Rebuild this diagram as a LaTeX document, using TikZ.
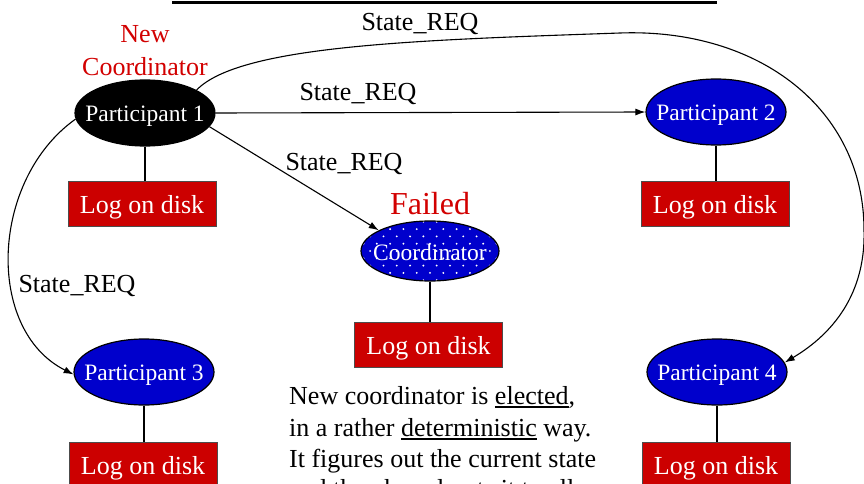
\documentclass[tikz,border=0pt]{standalone}
\usepackage{fontspec}
\setmainfont{Liberation Serif}
\usetikzlibrary{shapes.geometric,arrows.meta}
\definecolor{nodeblue}{RGB}{0,0,204}
\definecolor{diskred}{RGB}{204,0,0}
\definecolor{notered}{RGB}{210,0,0}
% text of zero size, lowered so its baseline sits #1 below the node centre
\newcommand\centredtext[2]{\raisebox{-#1}[0pt][0pt]{\makebox[0pt]{#2}}}
% word with a firm underline
\newsavebox\ulbox
\newcommand\ulword[1]{\sbox\ulbox{#1}\rlap{\rule[-3.5pt]{\wd\ulbox}{1.8pt}}\usebox\ulbox}

\begin{document}
\begin{tikzpicture}[x=1pt,y=-1pt,
  part/.style={ellipse, draw=black, line width=1.2pt, fill=nodeblue, text=white,
    minimum width=140pt, minimum height=66pt, inner sep=0pt,
    font=\fontsize{23.5}{28}\selectfont},
  disk/.style={rectangle, draw=black!70, line width=0.9pt, fill=diskred, text=white,
    minimum width=148pt, minimum height=45pt, inner sep=0pt,
    font=\fontsize{26}{31}\selectfont},
  dotfill/.style={path picture={
    \foreach \r in {0,...,10}{\foreach \c in {0,...,12}{
      \pgfmathsetmacro\dx{(\c-6)*13.3+mod(\r,2)*6.65}
      \pgfmathsetmacro\dy{(\r-5)*7.3}
      \fill[white] ([shift={(\dx,\dy)}]path picture bounding box.center) circle (1.05);
    }}}},
  msg/.style={-{Latex[length=10pt,width=7pt]}, line width=1.1pt},
  link/.style={line width=2.6pt},
  lbl/.style={font=\fontsize{26}{31}\selectfont, inner sep=0pt, anchor=base},
  note/.style={font=\fontsize{26}{31}\selectfont, inner sep=0pt, anchor=base west},
]
\useasboundingbox (0,0) rectangle (864,484);
\clip (0,0) rectangle (864,484);

% rule along the top
\draw[line width=3pt] (172,2.5) -- (717,2.5);

% participants and the failed coordinator
\node[part, fill=black] (p1) at (145,113) {\centredtext{8.5pt}{Participant 1}};
\node[part] (p2) at (716,112) {\centredtext{8.5pt}{Participant 2}};
\node[part] (p3) at (144,372) {\centredtext{8.5pt}{Participant 3}};
\node[part] (p4) at (717,372) {\centredtext{8.5pt}{Participant 4}};
\node[part, dotfill, minimum width=138pt, minimum height=60pt] (coord) at (430,251)
  {\centredtext{9pt}{Coordinator}};

% logs
\node[disk] (d1) at (142,203.5) {\centredtext{9.5pt}{Log on disk}};
\node[disk] (d2) at (715,203.5) {\centredtext{9.5pt}{Log on disk}};
\node[disk] (dc) at (428.5,344.5) {\centredtext{9.5pt}{Log on disk}};
\node[disk] (d3) at (143,464.5) {\centredtext{9.5pt}{Log on disk}};
\node[disk] (d4) at (716,464.5) {\centredtext{9.5pt}{Log on disk}};

\draw[link] (p1.south) -- (p1.south |- d1.north);
\draw[link] (p2.south) -- (p2.south |- d2.north);
\draw[link] (coord.south) -- (coord.south |- dc.north);
\draw[link] (p3.south) -- (p3.south |- d3.north);
\draw[link] (p4.south) -- (p4.south |- d4.north);

% state requests sent by the new coordinator
\draw[msg] (p1.0) -- (p2.180);
\draw[msg] (p1.-12) -- (coord.158);
\draw[msg] (p1.185) .. controls (-10,180) and (-15,330) .. (p3.182);
\draw[msg] (p1.24) .. controls (240,45) and (420,40) .. (620,33)
  .. controls (760,28) and (864,110) .. (864,230)
  .. controls (866,300) and (826,338) .. (p4.8);

% labels
\node[lbl] (l1) at (420,31) {State\_REQ};
\node[lbl] (l2) at (358,101) {State\_REQ};
\node[lbl] (l3) at (344,170) {State\_REQ};
\node[lbl] (l4) at (77,292) {State\_REQ};

\node[lbl, text=notered] (n1) at (145,43) {New};
\node[lbl, text=notered] (n2) at (145,76) {Coordinator};
\node[lbl, text=notered, font=\fontsize{32}{38}\selectfont] (fl) at (430,214) {Failed};

% explanation
\node[note] (t1) at (289,404) {New coordinator is \ulword{elected},};
\node[note] (t2) at (289,436) {in a rather \ulword{deterministic} way.};
\node[note] (t3) at (289,467) {It figures out the current state};
\node[note] (t4) at (289,497) {and then broadcasts it to all};
\end{tikzpicture}
\end{document}
